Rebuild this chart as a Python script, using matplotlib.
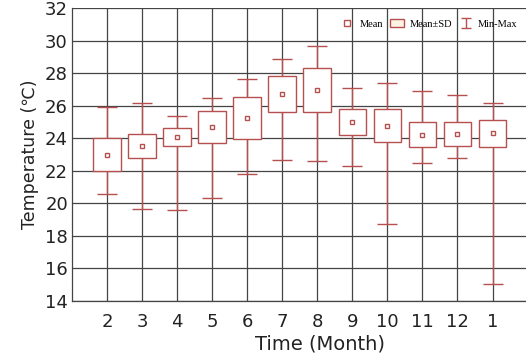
import numpy as np
import matplotlib
matplotlib.use("Agg")
import matplotlib.pyplot as plt
from matplotlib.patches import Patch
from matplotlib.lines import Line2D

# monthly temperature statistics
months = ["2", "3", "4", "5", "6", "7", "8", "9", "10", "11", "12", "1"]
mean = [22.99, 23.50, 24.10, 24.69, 25.24, 26.72, 26.96, 24.97, 24.77, 24.22, 24.26, 24.30]
sd = [1.00, 0.74, 0.55, 1.00, 1.28, 1.09, 1.37, 0.80, 1.02, 0.78, 0.72, 0.84]
t_max = [25.90, 26.18, 25.37, 26.47, 27.66, 28.89, 29.70, 27.06, 27.37, 26.92, 26.67, 26.18]
t_min = [20.60, 19.67, 19.59, 20.30, 21.78, 22.66, 22.58, 22.29, 18.71, 22.50, 22.80, 15.02]

red = "#b5504f"
x = np.arange(1, len(months) + 1)
mean = np.array(mean)
sd = np.array(sd)

fig = plt.figure(figsize=(5.26, 3.54), dpi=100)
ax = fig.add_axes([0.137, 0.150, 0.866, 0.827])

# whiskers min-max
ax.errorbar(x, mean, yerr=[mean - np.array(t_min), np.array(t_max) - mean],
            fmt="none", ecolor=red, elinewidth=1.0, capsize=7.5, capthick=1.0, zorder=3)
# mean +- sd boxes
ax.bar(x, 2 * sd, bottom=mean - sd, width=0.79, facecolor="white",
       edgecolor=red, linewidth=1.0, zorder=4)
# mean markers
ax.plot(x, mean, "s", ms=3.5, mfc="white", mec=red, mew=1.0, ls="none", zorder=5)

ax.set_xlim(0, 13)
ax.set_ylim(14, 32)
ax.set_xticks(x)
ax.set_xticklabels(months)
ax.set_yticks(np.arange(14, 33, 2))
ax.tick_params(axis="both", length=0, labelsize=13, colors="#222222")
ax.tick_params(axis="x", pad=9)
ax.tick_params(axis="y", pad=3)
ax.grid(True, color="#444444", linewidth=0.9)
ax.set_axisbelow(True)
for s in ["top", "right"]:
    ax.spines[s].set_visible(False)
for s in ["left", "bottom"]:
    ax.spines[s].set_color("#444444")
    ax.spines[s].set_linewidth(0.9)

ax.set_xlabel("Time (Month)", fontsize=14, color="#222222", labelpad=2)
ax.xaxis.label.set_x(0.545)
ax.set_ylabel("Temperature (℃)", fontsize=12.5, color="#222222", labelpad=4)

# legend
h_mean = Line2D([], [], marker="s", ms=4, mfc="white", mec=red, mew=1.0, ls="none")
h_sd = Patch(facecolor="#fdf3e3", edgecolor=red, linewidth=1.0)
h_mm = ax.errorbar([np.nan], [np.nan], yerr=[[1], [1]], fmt="none", ecolor=red,
                   elinewidth=1.0, capsize=3.5, capthick=1.0)
fig.legend([h_mean, h_sd, h_mm], ["Mean", "Mean±SD", "Min-Max"], loc="center right",
           bbox_to_anchor=(0.992, 0.932), ncol=3, frameon=False, borderaxespad=0,
           prop={"family": "Liberation Serif", "size": 7.5},
           handlelength=1.4, handletextpad=0.5, columnspacing=0.6)

plt.savefig("out.png", dpi=100)
